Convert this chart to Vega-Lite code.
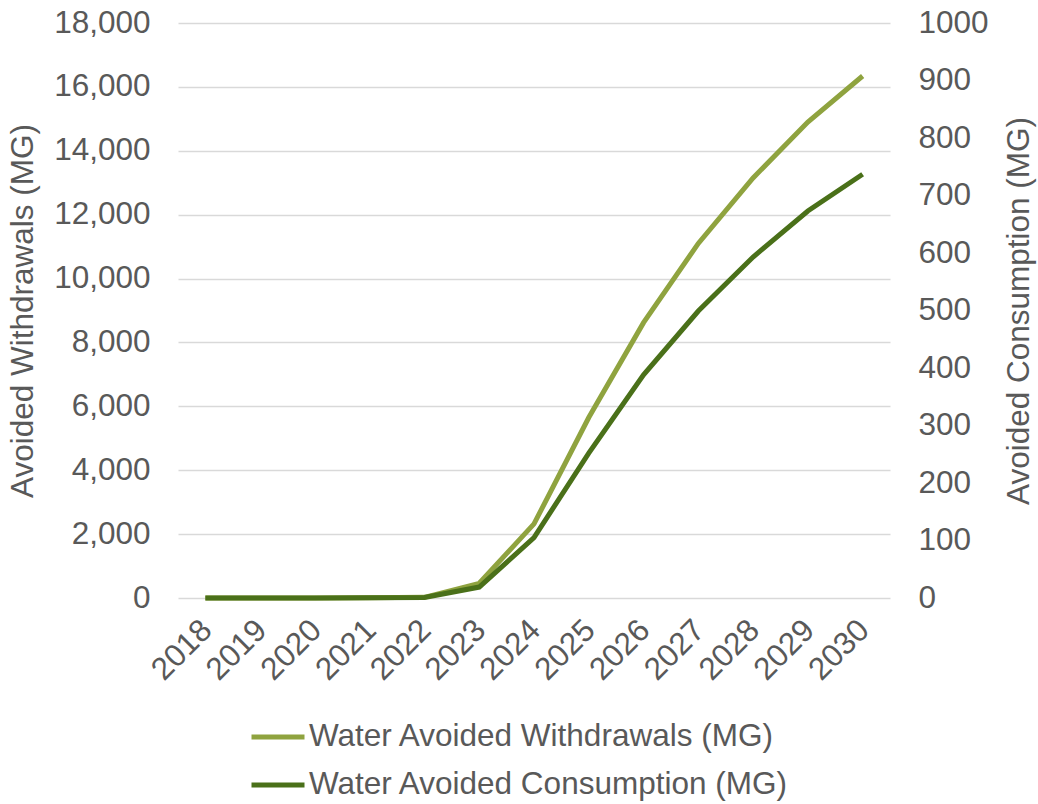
{
  "$schema": "https://vega.github.io/schema/vega-lite/v6.json",
  "width": 712,
  "height": 575,
  "autosize": {"type": "none"},
  "padding": {"left": 178, "top": 23, "right": 148, "bottom": 206},
  "background": "white",
  "config": {
    "font": "Liberation Sans",
    "view": {"stroke": null},
    "axis": {"labelColor": "#595959", "titleColor": "#595959", "labelFontSize": 31.5, "titleFontSize": 31.5, "titleFontWeight": "normal", "domain": false, "ticks": false, "gridColor": "#d9d9d9", "gridWidth": 1.5}
  },
  "data": {"values": [
    {"year": "2018", "withdrawals": 0, "consumption": 0},
    {"year": "2019", "withdrawals": 0, "consumption": 0},
    {"year": "2020", "withdrawals": 0, "consumption": 0},
    {"year": "2021", "withdrawals": 5, "consumption": 0.3},
    {"year": "2022", "withdrawals": 20, "consumption": 1},
    {"year": "2023", "withdrawals": 460, "consumption": 19},
    {"year": "2024", "withdrawals": 2320, "consumption": 105},
    {"year": "2025", "withdrawals": 5650, "consumption": 252},
    {"year": "2026", "withdrawals": 8620, "consumption": 388},
    {"year": "2027", "withdrawals": 11100, "consumption": 499},
    {"year": "2028", "withdrawals": 13150, "consumption": 593},
    {"year": "2029", "withdrawals": 14900, "consumption": 673},
    {"year": "2030", "withdrawals": 16340, "consumption": 737}
  ]},
  "encoding": {
    "x": {"field": "year", "type": "ordinal", "scale": {"type": "point", "padding": 0.5},
      "axis": {"title": null, "labelAngle": -45, "labelPadding": 16, "labelOffset": -10, "grid": false}}
  },
  "layer": [
    {
      "mark": {"type": "line", "strokeWidth": 5},
      "encoding": {
        "y": {"field": "withdrawals", "type": "quantitative", "scale": {"domain": [0, 18000]},
          "axis": {"title": "Avoided Withdrawals (MG)", "values": [0,2000,4000,6000,8000,10000,12000,14000,16000,18000], "format": ",d", "labelPadding": 28, "titlePadding": 14, "grid": true}},
        "color": {"datum": "Water Avoided Withdrawals (MG)", "type": "nominal",
          "scale": {"domain": ["Water Avoided Withdrawals (MG)", "Water Avoided Consumption (MG)"], "range": ["#8FA33F", "#4A7019"]},
          "legend": {"orient": "none", "legendX": 71, "legendY": 685, "direction": "vertical", "title": null, "symbolType": "stroke", "symbolSize": 2809, "symbolStrokeWidth": 5, "labelFontSize": 31.5, "labelColor": "#595959", "labelOffset": 2, "labelLimit": 0, "rowPadding": 3}}
      }
    },
    {
      "mark": {"type": "line", "strokeWidth": 5},
      "encoding": {
        "y": {"field": "consumption", "type": "quantitative", "scale": {"domain": [0, 1000]},
          "axis": {"orient": "right", "title": "Avoided Consumption (MG)", "titleAngle": 270, "values": [0,100,200,300,400,500,600,700,800,900,1000], "format": "d", "labelPadding": 28, "titlePadding": 47, "grid": false}},
        "color": {"datum": "Water Avoided Consumption (MG)", "type": "nominal"}
      }
    }
  ],
  "resolve": {"scale": {"y": "independent"}}
}
